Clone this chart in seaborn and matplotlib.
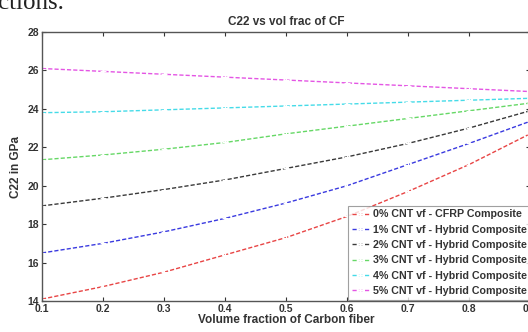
import pandas as pd
import seaborn as sns
import matplotlib.pyplot as plt

# volume fraction of carbon fiber
vf_cf = [0.1, 0.2, 0.3, 0.4, 0.5, 0.6, 0.7, 0.8, 0.9]

# C22 (GPa), one list per CNT volume fraction
c22_0 = [14.1, 14.75, 15.5, 16.4, 17.3, 18.4, 19.7, 21.1, 22.7]
c22_1 = [16.5, 17.0, 17.6, 18.3, 19.1, 20.0, 21.1, 22.2, 23.35]
c22_2 = [18.95, 19.35, 19.8, 20.3, 20.9, 21.5, 22.2, 23.0, 23.9]
c22_3 = [21.35, 21.6, 21.9, 22.25, 22.7, 23.1, 23.5, 23.9, 24.3]
c22_4 = [23.8, 23.85, 23.95, 24.05, 24.15, 24.25, 24.35, 24.45, 24.55]
c22_5 = [26.1, 25.95, 25.8, 25.65, 25.5, 25.35, 25.2, 25.05, 24.9]

labels = ['0% CNT vf - CFRP Composite',
          '1% CNT vf - Hybrid Composite',
          '2% CNT vf - Hybrid Composite',
          '3% CNT vf - Hybrid Composite',
          '4% CNT vf - Hybrid Composite',
          '5% CNT vf - Hybrid Composite']
series = [c22_0, c22_1, c22_2, c22_3, c22_4, c22_5]
colors = ['#e84545', '#3a3ae0', '#3a3a3a', '#66d866', '#45dbe8', '#e455e4']

rows = []
for lab, vals in zip(labels, series):
    for x, y in zip(vf_cf, vals):
        rows.append({'vf': x, 'c22': y, 'case': lab})
df = pd.DataFrame(rows)

sns.set_style('ticks')
plt.rcParams['font.family'] = ['Liberation Sans', 'DejaVu Sans']
plt.rcParams['font.weight'] = 'bold'

fig = plt.figure(figsize=(5.28, 3.32), dpi=100)
ax = fig.add_axes([42 / 528, 31 / 332, 488 / 528, 269 / 332])

sns.lineplot(data=df, x='vf', y='c22', hue='case', palette=colors,
             linewidth=1.0, marker='+', markersize=4, markeredgewidth=0.8,
             ax=ax)
for ln in ax.get_lines():
    ln.set_linestyle((0, (3, 1.5)))

ax.set_xlim(0.1, 0.9)
ax.set_ylim(14, 28)
ax.set_xticks([0.1, 0.2, 0.3, 0.4, 0.5, 0.6, 0.7, 0.8, 0.9])
ax.set_xticklabels(['0.1', '0.2', '0.3', '0.4', '0.5', '0.6', '0.7', '0.8', '0.9'])
ax.set_yticks([14, 16, 18, 20, 22, 24, 26, 28])
ax.tick_params(direction='in', length=3, width=0.8, labelsize=7.5,
               colors='#333333', top=True, right=True, pad=2)
for sp in ax.spines.values():
    sp.set_color('#555555')
    sp.set_linewidth(1.0)

ax.set_title('C22 vs vol frac of CF', fontsize=8.5, fontweight='bold',
             color='#333333', pad=5)
ax.set_xlabel('Volume fraction of Carbon fiber', fontsize=8.5,
              fontweight='bold', color='#333333', labelpad=0)
ax.set_ylabel('C22 in GPa', fontsize=8.5, fontweight='bold',
              color='#333333', labelpad=4)

leg = ax.legend(loc='lower left', bbox_to_anchor=(0.625, 0.0), fontsize=7.7,
                frameon=True, fancybox=False, borderpad=0.35,
                labelspacing=0.5, handlelength=1.6, handletextpad=0.4,
                borderaxespad=0.1)
leg.get_frame().set_edgecolor('#888888')
leg.get_frame().set_linewidth(0.8)
for t in leg.get_texts():
    t.set_color('#333333')
    t.set_fontweight('bold')

fig.text(-0.004, 1.025, 'ctions.', fontsize=18, family='Liberation Serif',
         fontweight='normal', va='top', ha='left', color='#222222')

fig.savefig('out.png', dpi=100)
